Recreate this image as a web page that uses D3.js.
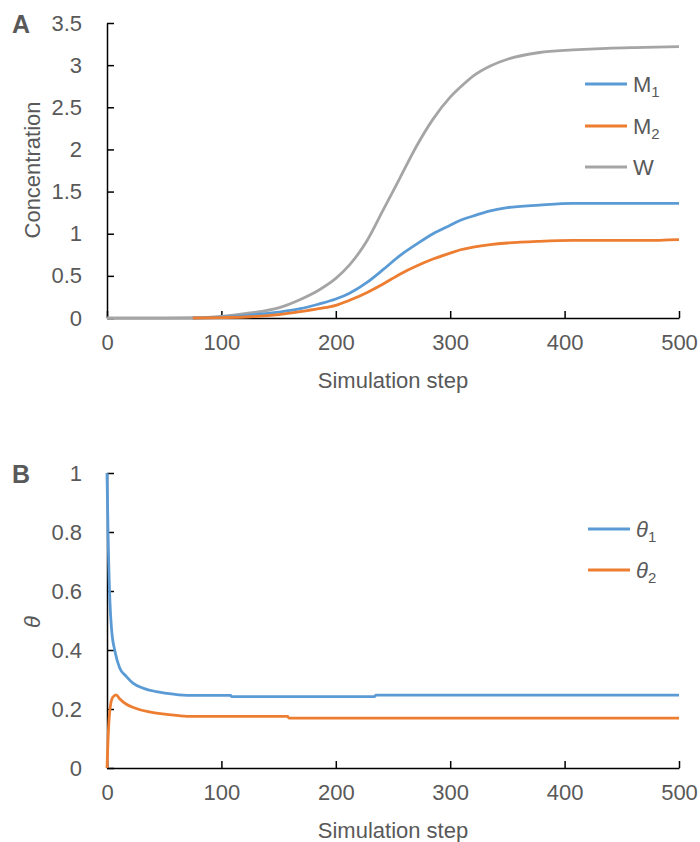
<!DOCTYPE html>
<html>
<head>
<meta charset="utf-8">
<script src="https://cdn.jsdelivr.net/npm/d3@7"></script>
<style>
  body { margin: 0; background: #fff; }
  text { font-family: "Liberation Sans", Arial, sans-serif; fill: #595959; }
</style>
</head>
<body>
<script>

// panel A data (steps)
var stepsW = [0, 50, 75, 100, 125, 150, 169, 185, 200, 212, 227, 241, 256, 271, 285, 300, 309, 320, 335, 350, 378, 407, 437, 470, 500];
var valW   = [0, 0, 0.003, 0.02, 0.06, 0.12, 0.22, 0.33, 0.47, 0.63, 0.91, 1.27, 1.66, 2.05, 2.36, 2.62, 2.74, 2.87, 2.99, 3.07, 3.15, 3.18, 3.20, 3.21, 3.22];
var stepsM = [75, 100, 125, 150, 169, 185, 200, 212, 227, 241, 256, 271, 285, 300, 309, 320, 335, 350, 378, 407, 437, 470, 500];
var valM1  = [0, 0.01, 0.035, 0.07, 0.11, 0.165, 0.225, 0.295, 0.42, 0.57, 0.74, 0.88, 1.00, 1.10, 1.16, 1.21, 1.27, 1.31, 1.34, 1.36, 1.36, 1.36, 1.36];
var valM2  = [0, 0.005, 0.015, 0.04, 0.075, 0.11, 0.15, 0.21, 0.30, 0.40, 0.52, 0.62, 0.70, 0.77, 0.81, 0.84, 0.87, 0.89, 0.91, 0.92, 0.92, 0.92, 0.93];

// panel B data
var stepsT1 = [0, 1, 2.6, 4, 7, 11, 17, 23, 32, 43, 52, 70, 108, 109, 234, 235, 500];
var valT1   = [1, 0.78, 0.56, 0.47, 0.395, 0.34, 0.31, 0.287, 0.27, 0.259, 0.253, 0.246, 0.246, 0.242, 0.242, 0.247, 0.247];
var stepsT2 = [0, 1, 2.6, 5, 8, 11, 17, 23, 37, 52, 70, 158, 159, 500];
var valT2   = [0, 0.106, 0.2, 0.24, 0.248, 0.235, 0.216, 0.205, 0.19, 0.182, 0.175, 0.175, 0.169, 0.169];

var xTicks = [0, 100, 200, 300, 400, 500];
var yTicksA = [0, 0.5, 1, 1.5, 2, 2.5, 3, 3.5];
var yTicksB = [0, 0.2, 0.4, 0.6, 0.8, 1];

var blue = "#5B9BD5", orange = "#ED7D31", gray = "#A5A5A5";

var svg = d3.select("body").append("svg")
    .attr("width", 700)
    .attr("height", 842);

var left = 107, right = 679, plotH = 295;

function zip(xs, ys) {
  return xs.map(function(x, i) { return [x, ys[i]]; });
}

function panel(top, yMax, yTicks, series, letter, yLabel, legend) {
  var x = d3.scaleLinear().domain([0, 500]).range([left, right]);
  var y = d3.scaleLinear().domain([0, yMax]).range([top + plotH, top]);

  // axes, ticks pointing inward
  var xAxis = svg.append("g")
      .attr("transform", "translate(0," + (top + plotH) + ")")
      .call(d3.axisBottom(x).tickValues(xTicks).tickSizeInner(-7).tickSizeOuter(0).tickPadding(22));
  var yAxis = svg.append("g")
      .attr("transform", "translate(" + left + ",0)")
      .call(d3.axisLeft(y).tickValues(yTicks).tickFormat(d3.format("")).tickSizeInner(-7).tickSizeOuter(0).tickPadding(25));

  [xAxis, yAxis].forEach(function(a) {
    a.select(".domain").attr("stroke", "#000").attr("stroke-width", 1.5);
    a.selectAll(".tick line").attr("stroke", "#000").attr("stroke-width", 1.5);
    a.selectAll(".tick text")
      .style("font-family", "Liberation Sans, Arial, sans-serif")
      .attr("font-size", 22)
      .attr("fill", "#595959");
  });
  xAxis.selectAll(".tick text").attr("dy", "0.71em").attr("y", 16);

  var line = d3.line()
      .curve(d3.curveMonotoneX)
      .x(function(d) { return x(d[0]); })
      .y(function(d) { return y(d[1]); });

  series.forEach(function(s) {
    svg.append("path")
      .attr("d", line(s.pts))
      .attr("fill", "none")
      .attr("stroke", s.color)
      .attr("stroke-width", 2.8)
      .attr("stroke-linejoin", "round");
  });

  svg.append("text")
    .attr("x", 12).attr("y", top + 10)
    .attr("font-size", 25).attr("font-weight", "bold")
    .text(letter);

  svg.append("text")
    .attr("x", (left + right) / 2).attr("y", top + plotH + 70)
    .attr("text-anchor", "middle").attr("font-size", 22)
    .text("Simulation step");

  svg.append("text")
    .attr("transform", "translate(40," + yLabel.cy + ") rotate(-90)")
    .attr("text-anchor", "middle").attr("font-size", 22)
    .attr("font-style", yLabel.italic ? "italic" : null)
    .text(yLabel.text);

  legend.forEach(function(l) {
    svg.append("line")
      .attr("x1", l.x).attr("x2", l.x + 42)
      .attr("y1", l.y).attr("y2", l.y)
      .attr("stroke", l.color).attr("stroke-width", 2.8);
    var t = svg.append("text")
      .attr("x", l.x + 48).attr("y", l.y + 8)
      .attr("font-size", 22);
    t.append("tspan").attr("font-style", l.italic ? "italic" : null).text(l.name);
    if (l.sub) {
      t.append("tspan").attr("font-size", 15).attr("dy", 5).text(l.sub);
    }
  });
}

panel(23, 3.5, yTicksA,
  [
    { pts: zip(stepsW, valW), color: gray },
    { pts: zip(stepsM, valM1), color: blue },
    { pts: zip(stepsM, valM2), color: orange }
  ],
  "A", { text: "Concentration", cy: 170, italic: false },
  [
    { name: "M", sub: "1", color: blue, x: 585, y: 84 },
    { name: "M", sub: "2", color: orange, x: 585, y: 126 },
    { name: "W", sub: null, color: gray, x: 585, y: 167 }
  ]);

panel(473, 1, yTicksB,
  [
    { pts: zip(stepsT1, valT1), color: blue },
    { pts: zip(stepsT2, valT2), color: orange }
  ],
  "B", { text: "θ", cy: 622, italic: true },
  [
    { name: "θ", sub: "1", color: blue, x: 588, y: 529, italic: true },
    { name: "θ", sub: "2", color: orange, x: 588, y: 570, italic: true }
  ]);

</script>
</body>
</html>
